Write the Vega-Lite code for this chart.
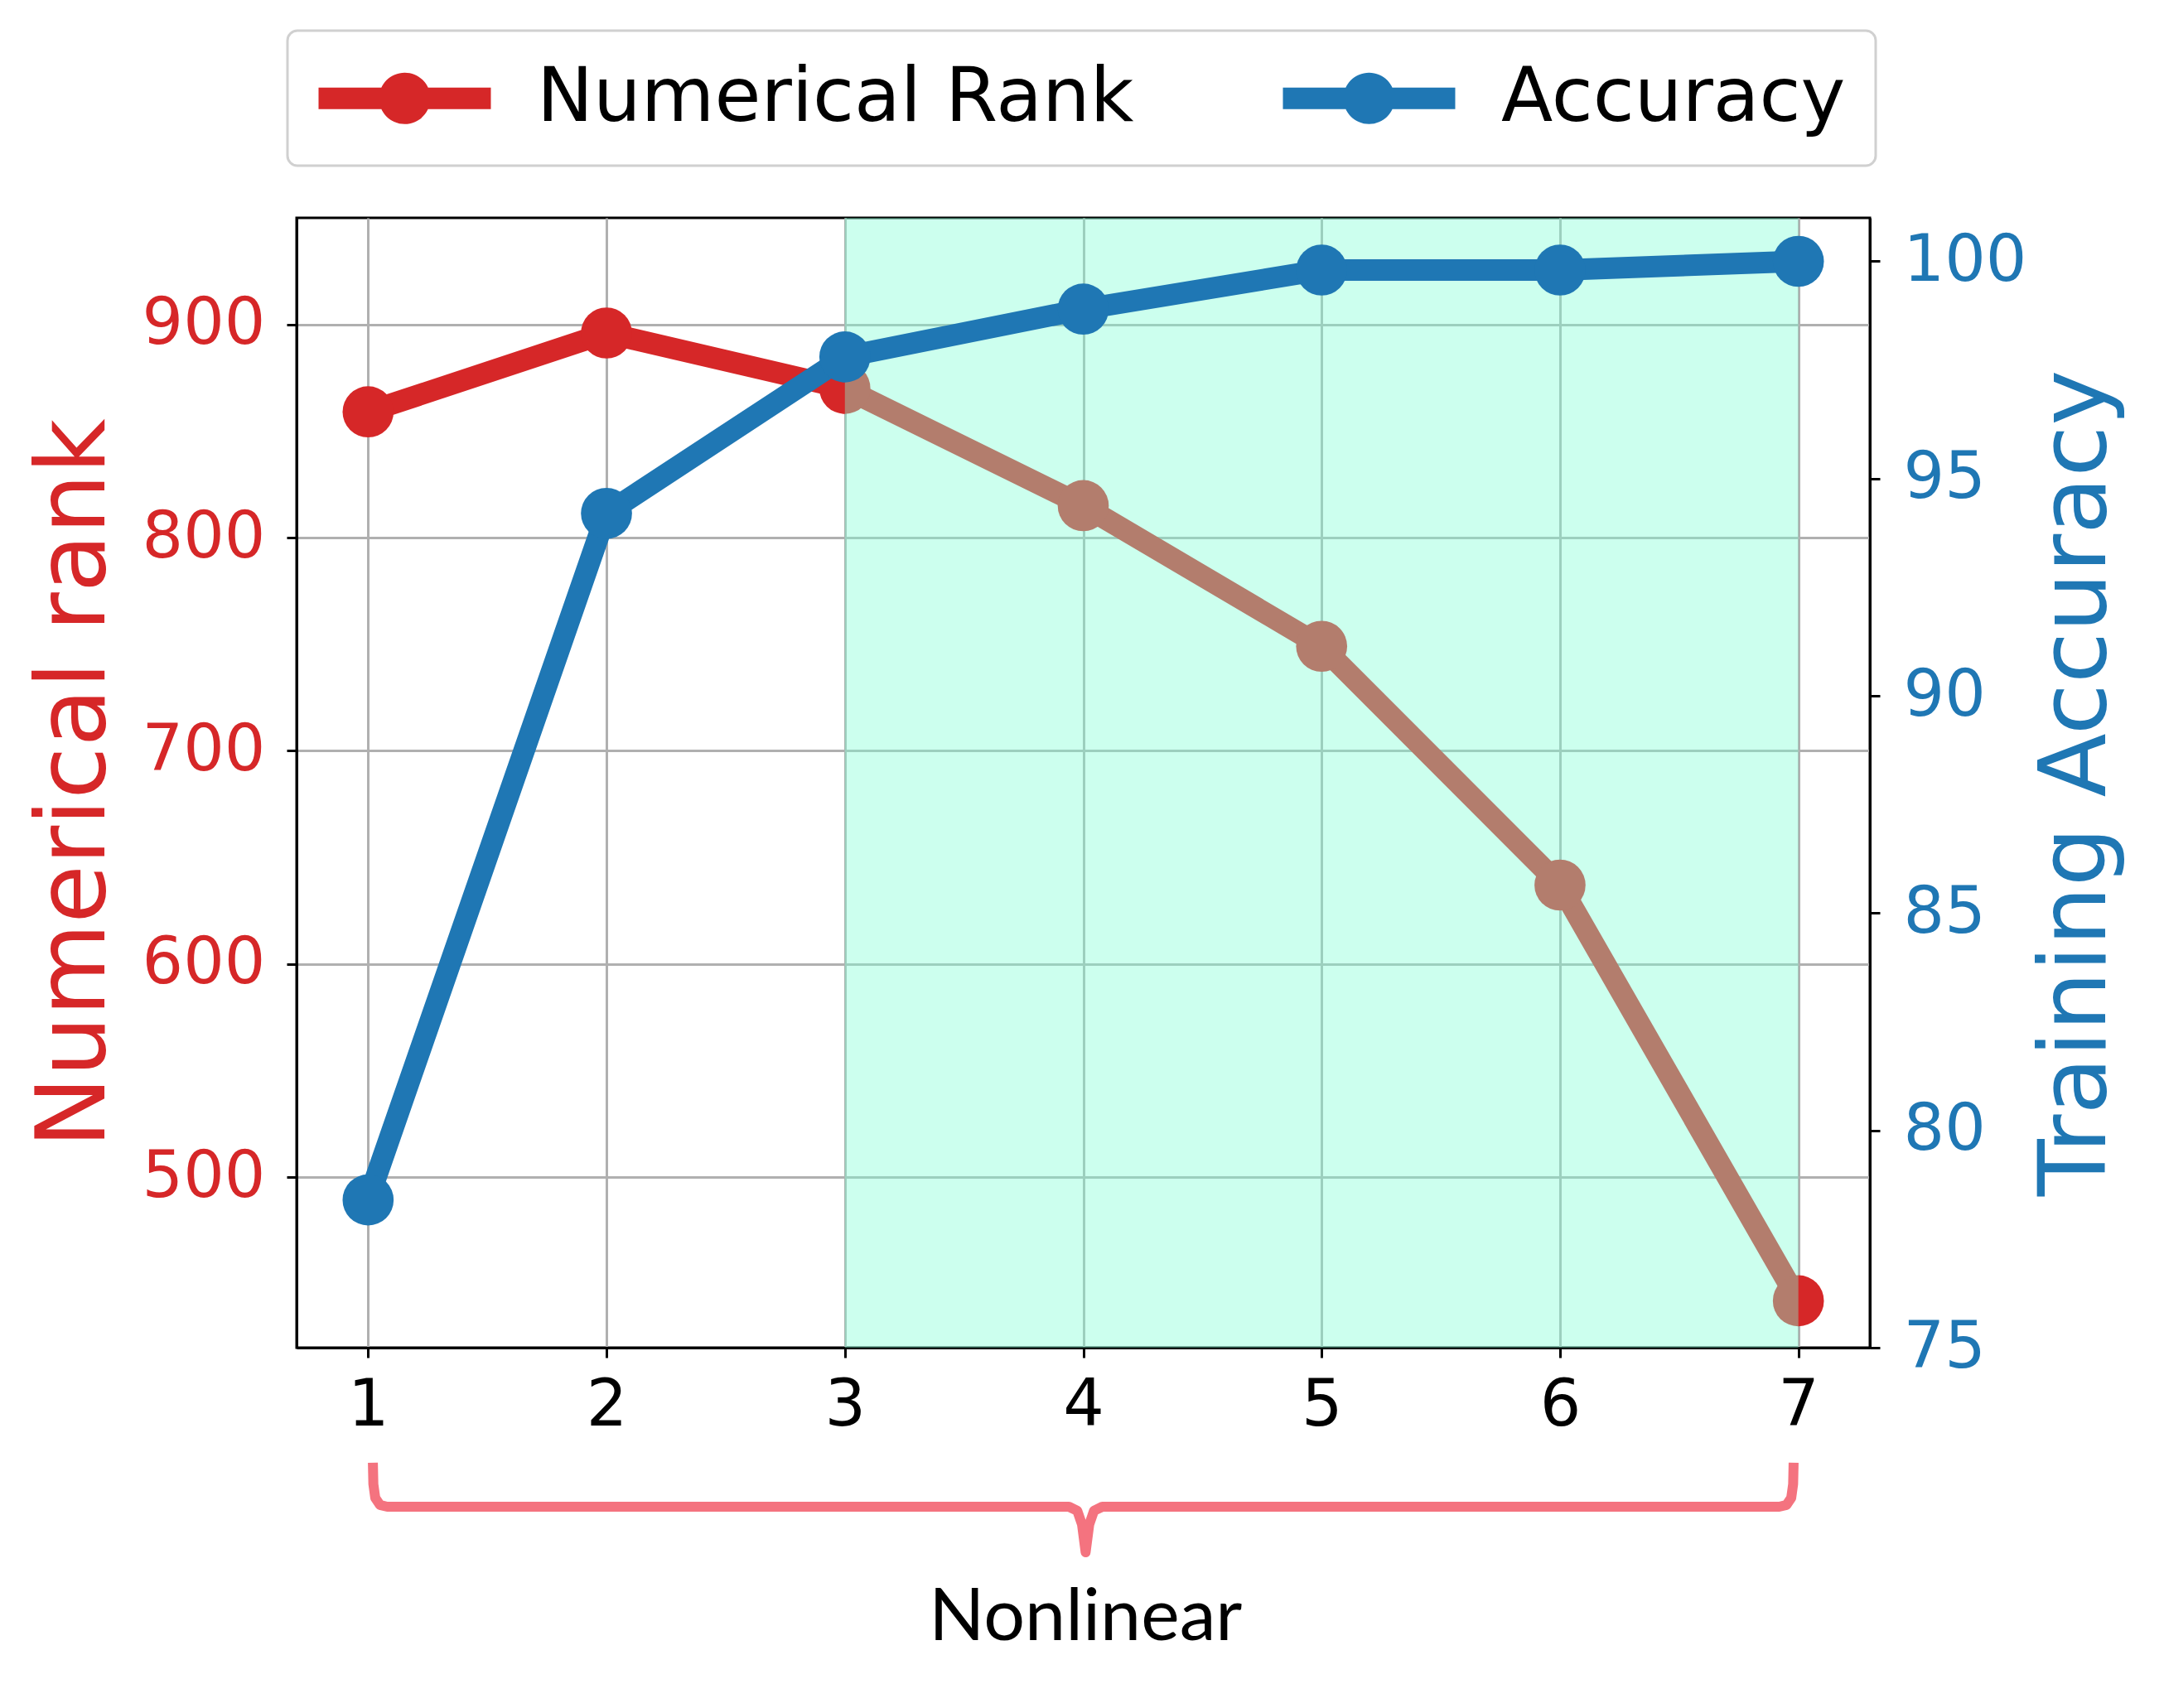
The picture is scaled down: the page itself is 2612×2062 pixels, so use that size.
{
  "$schema": "https://vega.github.io/schema/vega-lite/v6.json",
  "width": 1899,
  "height": 1364,
  "autosize": {"type": "none"},
  "padding": {"left": 358, "top": 263, "right": 355, "bottom": 435},
  "background": "white",
  "config": {
    "view": {"stroke": "black", "strokeWidth": 3},
    "font": "DejaVu Sans",
    "axis": {
      "domainColor": "black", "domainWidth": 3, "tickColor": "black", "tickWidth": 3, "tickSize": 12,
      "labelFontSize": 78, "labelFont": "DejaVu Sans", "labelFlush": false, "labelOverlap": false,
      "gridColor": "#b0b0b0", "gridWidth": 3, "titleFont": "DejaVu Sans", "titleFontWeight": "normal"
    },
    "axisLeft": {"labelColor": "#d62728", "titleColor": "#d62728", "titleFontSize": 115, "grid": true, "labelPadding": 26, "titlePadding": 22},
    "axisRight": {"labelColor": "#1f77b4", "titleColor": "#1f77b4", "titleFontSize": 113, "grid": false, "labelPadding": 28, "titlePadding": 6, "titleAngle": 270, "titleBaseline": "top"},
    "axisBottom": {"labelColor": "black", "grid": true, "labelPadding": 19},
    "legend": {
      "orient": "none", "legendX": -11, "legendY": -226, "direction": "horizontal",
      "symbolType": "M-1,-0.295H3.727V0.295H-1Z M2.069,0A0.705,0.705 0 1,1 0.659,0A0.705,0.705 0 1,1 2.069,0Z",
      "symbolSize": 7744, "symbolStrokeWidth": 0, "symbolOpacity": 1,
      "labelFontSize": 91, "labelFont": "DejaVu Sans", "labelColor": "black", "labelOffset": 174, "labelLimit": 0,
      "columnPadding": 178, "padding": 36, "strokeColor": "#d0d0d0", "strokeWidth": 3,
      "cornerRadius": 12, "fillColor": "white"
    }
  },
  "data": {"values": [
    {"n": 1, "rank": 859, "accuracy": 78.4},
    {"n": 2, "rank": 896, "accuracy": 94.2},
    {"n": 3, "rank": 870, "accuracy": 97.8},
    {"n": 4, "rank": 815, "accuracy": 98.9},
    {"n": 5, "rank": 749, "accuracy": 99.8},
    {"n": 6, "rank": 637, "accuracy": 99.8},
    {"n": 7, "rank": 442, "accuracy": 100.0}
  ]},
  "layer": [
    {
      "layer": [
        {
          "mark": {"type": "line", "color": "#d62728", "strokeWidth": 26},
          "encoding": {
            "x": {"field": "n", "type": "quantitative", "scale": {"domain": [0.7, 7.3], "nice": false, "zero": false}, "axis": {"values": [1, 2, 3, 4, 5, 6, 7], "title": null, "format": "d"}},
            "y": {"field": "rank", "type": "quantitative", "scale": {"domain": [420, 950], "nice": false, "zero": false}, "axis": {"values": [500, 600, 700, 800, 900], "title": "Numerical rank", "orient": "left"}}
          }
        },
        {
          "mark": {"type": "point", "shape": "circle", "filled": true, "opacity": 1, "size": 3800},
          "encoding": {
            "x": {"field": "n", "type": "quantitative"},
            "y": {"field": "rank", "type": "quantitative"},
            "color": {"datum": "Numerical Rank", "type": "nominal", "scale": {"domain": ["Numerical Rank", "Accuracy"], "range": ["#d62728", "#1f77b4"]}, "legend": {"title": null}}
          }
        },
        {
          "data": {"values": [
            {"i": 0, "bx": 1.02, "by": 366},
            {"i": 1, "bx": 1.022, "by": 356},
            {"i": 2, "bx": 1.03, "by": 349.5},
            {"i": 3, "bx": 1.05, "by": 346.2},
            {"i": 4, "bx": 1.08, "by": 345.4},
            {"i": 5, "bx": 3.94, "by": 345.4},
            {"i": 6, "bx": 3.975, "by": 343.5},
            {"i": 7, "bx": 3.995, "by": 337},
            {"i": 8, "bx": 4.01, "by": 324},
            {"i": 9, "bx": 4.025, "by": 337},
            {"i": 10, "bx": 4.045, "by": 343.5},
            {"i": 11, "bx": 4.08, "by": 345.4},
            {"i": 12, "bx": 6.92, "by": 345.4},
            {"i": 13, "bx": 6.95, "by": 346.2},
            {"i": 14, "bx": 6.97, "by": 349.5},
            {"i": 15, "bx": 6.978, "by": 356},
            {"i": 16, "bx": 6.98, "by": 366}
          ]},
          "mark": {"type": "line", "color": "#f4737f", "strokeWidth": 12, "strokeJoin": "round", "clip": false},
          "encoding": {
            "x": {"field": "bx", "type": "quantitative"},
            "y": {"field": "by", "type": "quantitative"},
            "order": {"field": "i", "type": "quantitative"}
          }
        },
        {
          "data": {"values": [{"tx": 4.01, "ty": 293, "label": "Nonlinear"}]},
          "mark": {"type": "text", "font": "Lato", "fontSize": 88, "color": "black", "baseline": "middle", "align": "center", "clip": false},
          "encoding": {
            "x": {"field": "tx", "type": "quantitative"},
            "y": {"field": "ty", "type": "quantitative"},
            "text": {"field": "label"}
          }
        }
      ]
    },
    {
      "data": {"values": [{"s": 3, "e": 7}]},
      "mark": {"type": "rect", "color": "#7fffd4", "opacity": 0.4},
      "encoding": {
        "x": {"field": "s", "type": "quantitative"},
        "x2": {"field": "e"}
      }
    },
    {
      "layer": [
        {
          "mark": {"type": "line", "color": "#1f77b4", "strokeWidth": 26},
          "encoding": {
            "x": {"field": "n", "type": "quantitative"},
            "y": {"field": "accuracy", "type": "quantitative", "scale": {"domain": [75, 101], "nice": false, "zero": false}, "axis": {"values": [75, 80, 85, 90, 95, 100], "title": "Training Accuracy", "orient": "right"}}
          }
        },
        {
          "mark": {"type": "point", "shape": "circle", "filled": true, "opacity": 1, "size": 3800},
          "encoding": {
            "x": {"field": "n", "type": "quantitative"},
            "y": {"field": "accuracy", "type": "quantitative"},
            "color": {"datum": "Accuracy", "type": "nominal"}
          }
        }
      ]
    }
  ],
  "resolve": {"scale": {"y": "independent"}}
}
